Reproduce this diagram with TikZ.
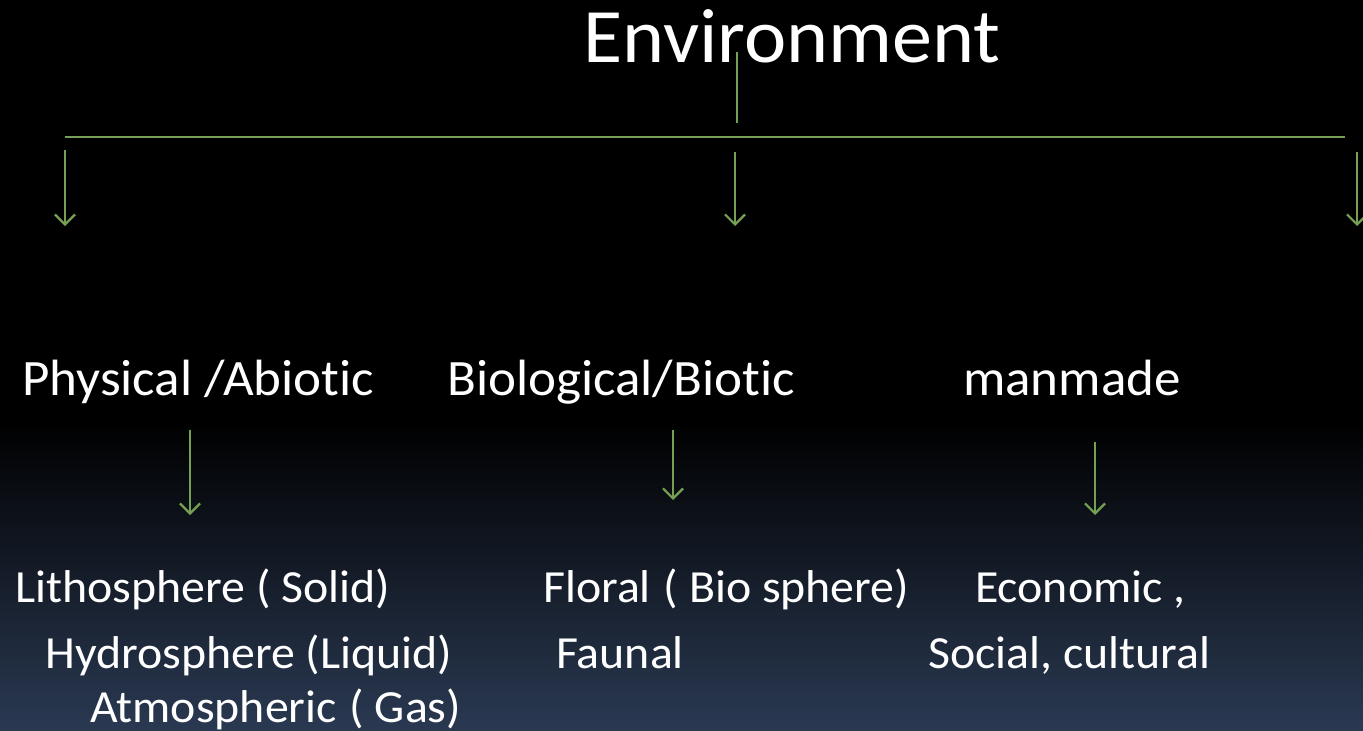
\documentclass[tikz,border=0pt]{standalone}
\usepackage{fontspec}
\setmainfont[FakeStretch=1.04,Ligatures={NoCommon}]{Carlito}
\usetikzlibrary{arrows.meta}
\definecolor{lngreen}{RGB}{118,160,84}
\definecolor{bottomblue}{RGB}{42,57,82}
\begin{document}
\begin{tikzpicture}[x=1pt,y=-1pt,
  lbl/.style={anchor=base west,inner sep=0pt,text=white},
  big/.style={lbl,font=\fontsize{77}{80}\selectfont},
  mid/.style={lbl,font=\fontsize{51}{56}\selectfont},
  small/.style={lbl,font=\fontsize{46}{50}\selectfont},
  conn/.style={draw=lngreen,line width=2.2pt},
  arr/.style={conn,-{Straight Barb[length=10pt,width=20pt,line width=2.2pt]}}]
\useasboundingbox (0,0) rectangle (1363,731);
\fill[black] (0,0) rectangle (1363,731);
\shade[top color=black,bottom color=bottomblue] (0,420) rectangle (1363,731);
% texts
\node[big] (env) at (583,62) {Environment};
\node[mid] (phys) at (22,395) {Physical /Abiotic};
\node[mid] (bio) at (447,395) {Biological/Biotic};
\node[mid] (man) at (963,395) {manmade};
\node[small] (litho) at (15,602) {Lithosphere ( Solid)};
\node[small] (hydro) at (45,668) {Hydrosphere (Liquid)};
\node[small] (atmo) at (90,722) {Atmospheric\ \kern2pt( Gas)};
\node[small] (flor) at (543,602) {Floral\ \kern2pt( Bio sphere)};
\node[small] (faun) at (556,668) {Faunal};
\node[small] (econ) at (975,602) {Economic ,};
\node[small] (soc) at (928,668) {Social, cultural};
% connector coordinates
\coordinate (envdown) at (737,52);
\coordinate (bus) at (737,123);
\coordinate (busL) at (65,137);
\coordinate (busR) at (1345,137);
\coordinate (a1s) at (65,150);  \coordinate (a1e) at (65,226);
\coordinate (a2s) at (735,152); \coordinate (a2e) at (735,226);
\coordinate (a3s) at (1357,152);\coordinate (a3e) at (1357,226);
\coordinate (b1s) at (190,430); \coordinate (b1e) at (190,515);
\coordinate (b2s) at (673,430); \coordinate (b2e) at (673,500);
\coordinate (b3s) at (1095,442);\coordinate (b3e) at (1095,515);
% connectors
\draw[conn] (envdown) -- (bus);
\draw[conn] (busL) -- (busR);
\draw[arr] (a1s) -- (a1e);
\draw[arr] (a2s) -- (a2e);
\draw[arr] (a3s) -- (a3e);
\draw[arr] (b1s) -- (b1e);
\draw[arr] (b2s) -- (b2e);
\draw[arr] (b3s) -- (b3e);
\end{tikzpicture}
\end{document}
